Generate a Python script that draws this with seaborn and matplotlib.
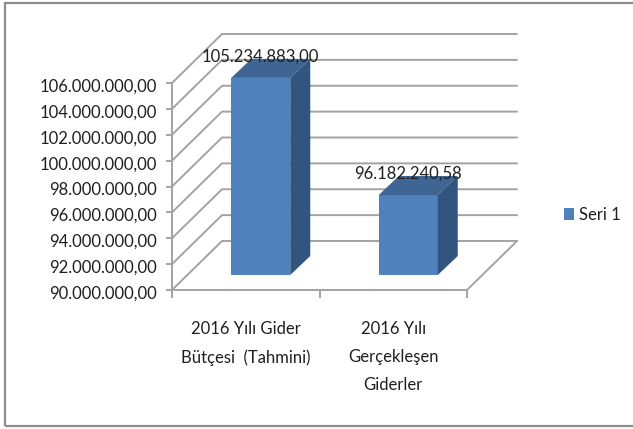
import pandas as pd
from matplotlib import pyplot as plt
from matplotlib.patches import Polygon, Rectangle
from matplotlib.transforms import ScaledTranslation
import seaborn as sns

categories = ["2016 Yılı Gider\nBütçesi  (Tahmini)", "2016 Yılı\nGerçekleşen\nGiderler"]
values = [105234883.00, 96182240.58]
series_name = "Seri 1"
y_ticks = list(range(90000000, 106000001, 2000000))

W, H = 633, 429
FRONT = "#4F81BD"
TOP = "#3E6594"
SIDE = "#32557F"
GRID = "#A3A3A3"
TEXT = "#1F1F1F"


def money(v):
    return f"{v:,.2f}".replace(",", "#").replace(".", ",").replace("#", ".")


sns.set_style("white")
plt.rcParams['font.family'] = ['Lato', 'DejaVu Sans']

fig = plt.figure(figsize=(W / 100, H / 100), dpi=100)
ax = fig.add_axes([172 / W, (H - 290) / H, 295 / W, 207 / H])
df = pd.DataFrame({"cat": categories, "value": values})
sns.barplot(df, x="cat", y="value", color=FRONT, saturation=1, width=59 / 147.5,
            label=series_name, ax=ax, zorder=3)
ax.set_xlim(-0.5, 1.5)
ax.set_ylim(y_ticks[0], y_ticks[-1])

# depth of the fake 3d box, in data units (pixels / pixels per unit)
px_x = 147.5
px_y = 207 / (y_ticks[-1] - y_ticks[0])
wall_dx, wall_dy = 50 / px_x, 49 / px_y
shift_dx, shift_dy = 15 / px_x, 15 / px_y
bar_dx, bar_dy = 20 / px_x, 19 / px_y

# walls and floor
x0, x1 = -0.5, 1.5
line = dict(color=GRID, lw=1.4, clip_on=False, zorder=1)
for t in y_ticks:
    ax.plot([x0, x0 + wall_dx, x1 + wall_dx], [t, t + wall_dy, t + wall_dy], **line)
ax.plot([x1, x1 + wall_dx], [y_ticks[0], y_ticks[0] + wall_dy], **line)

# bars: move the front face into the room, then add top and side
for p, v in zip(list(ax.patches), values):
    left = p.get_x() + shift_dx
    right = left + p.get_width()
    base = y_ticks[0] + shift_dy
    top = v + shift_dy
    p.set_x(left)
    p.set_y(base)
    p.set_height(top - base)
    p.set_edgecolor("none")
    p.set_clip_on(False)
    ax.add_patch(Polygon([(left, top), (right, top), (right + bar_dx, top + bar_dy), (left + bar_dx, top + bar_dy)],
                         closed=True, fc=TOP, ec="none", clip_on=False, zorder=3))
    ax.add_patch(Polygon([(right, base), (right, top), (right + bar_dx, top + bar_dy), (right + bar_dx, base + bar_dy)],
                         closed=True, fc=SIDE, ec="none", clip_on=False, zorder=3))
    ax.annotate(money(v), ((left + right) / 2, top), xytext=(0, 15.5), textcoords="offset points",
                ha="center", va="center", fontsize=12, color=TEXT, zorder=5, annotation_clip=False)

ax.set_xlabel("")
ax.set_ylabel("")
ax.set_yticks(y_ticks)
ax.set_yticklabels([money(t) for t in y_ticks], fontsize=12, color=TEXT)
ax.set_xticks([-0.5, 0.5, 1.5])
ax.set_xticklabels(["", "", ""])
ax.set_xticks([0, 1], labels=categories, minor=True, fontsize=12, color=TEXT, linespacing=1.95, va="top")
ax.tick_params(axis="y", length=4, width=1.4, color=GRID, pad=7, left=True)
ax.tick_params(axis="x", which="major", length=6, width=1.4, color=GRID, bottom=True)
ax.tick_params(axis="x", which="minor", length=0, pad=22)
sns.despine(ax=ax)
for s in ("left", "bottom"):
    ax.spines[s].set_color(GRID)
    ax.spines[s].set_linewidth(1.4)

# labels sit a little below their ticks in the original
for lab in ax.get_yticklabels():
    lab.set_transform(lab.get_transform() + ScaledTranslation(0, -2 / 100, fig.dpi_scale_trans))

ax.legend(loc="center left", bbox_to_anchor=(564 / W, (H - 215) / H), bbox_transform=fig.transFigure,
          frameon=False, fontsize=12, handlelength=0.6, handleheight=0.78, handletextpad=0.3,
          labelcolor=TEXT, borderpad=0, borderaxespad=0)

# outer chart frame, its right edge is cut off by the picture
fig.add_artist(Rectangle((5 / W, (H - 426) / H), 640 / W, 423 / H, transform=fig.transFigure,
                         fc="none", ec="#8C8C8C", lw=1.6, clip_on=True))

fig.savefig("out.png", dpi=100)
